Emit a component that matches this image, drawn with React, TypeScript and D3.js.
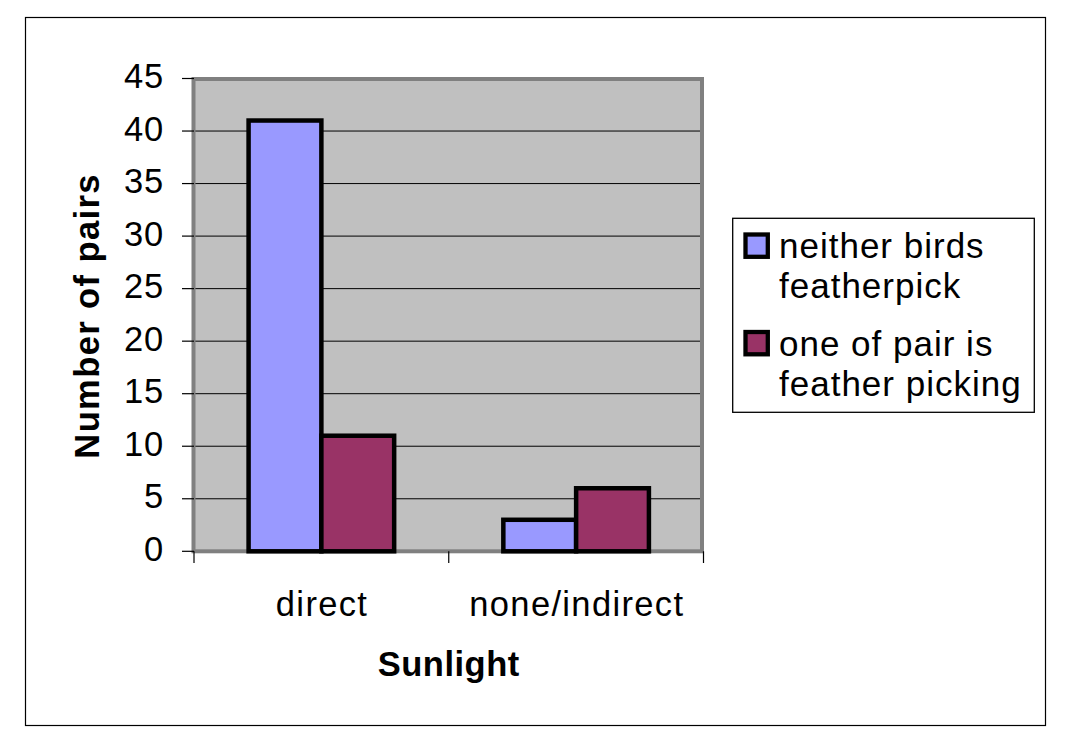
import React from "react";
import * as d3 from "d3";

const categories = ["direct", "none/indirect"];
const seriesNames = ["neither birds featherpick", "one of pair is feather picking"];
const legendLines = [
  ["neither birds", "featherpick"],
  ["one of pair is", "feather picking"],
];
const neitherPick = [41, 3];
const onePicking = [11, 6];
const seriesValues = [neitherPick, onePicking];
const yTicks = [0, 5, 10, 15, 20, 25, 30, 35, 40, 45];
const colors = ["#9999FF", "#993366"];

const W = 1069;
const H = 749;
const FONT = "'Liberation Sans', Arial, Helvetica, sans-serif";

export default function App() {
  const plotLeft = 194;
  const plotRight = 703.5;
  const plotTop = 78.5;
  const plotBottom = 551.3;

  const x = d3.scaleBand<string>().domain(categories).range([plotLeft, plotRight]).paddingInner(0).paddingOuter(0);
  const y = d3.scaleLinear().domain([0, 45]).range([plotBottom, plotTop]);
  const bw = x.bandwidth() / 3.5;
  const x1 = d3.scaleBand<number>().domain([0, 1]).range([0, 2 * bw]);
  const gapHalf = (x.bandwidth() - 2 * bw) / 2;

  const xTickPos = [plotLeft, ...categories.map((c) => (x(c) as number) + x.bandwidth())];

  return (
    <div style={{ position: "absolute", left: 0, top: 0, width: W, height: H }}>
      <svg width={W} height={H} style={{ display: "block", background: "#fff" }}>
        {/* outer chart border */}
        <rect x={25.5} y={17.5} width={1020} height={708} fill="#fff" stroke="#000" strokeWidth={1.2} />

        {/* plot area */}
        <rect x={plotLeft} y={plotTop} width={plotRight - plotLeft} height={plotBottom - plotTop} fill="#C0C0C0" />
        {yTicks.filter((t) => t > 0 && t < 45).map((t) => (
          <line key={"g" + t} x1={plotLeft} x2={plotRight} y1={y(t)} y2={y(t)} stroke="#000" strokeWidth={1} />
        ))}
        <rect
          x={plotLeft - 0.5}
          y={plotTop + 0.5}
          width={plotRight - plotLeft - 1}
          height={plotBottom - plotTop - 0.5}
          fill="none"
          stroke="#808080"
          strokeWidth={4}
        />

        {/* bars */}
        {categories.map((c, ci) =>
          seriesValues.map((vals, si) => {
            const bx = (x(c) as number) + gapHalf + (x1(si) as number);
            const v = vals[ci];
            return (
              <rect
                key={c + si}
                x={bx}
                y={y(v)}
                width={bw}
                height={y(0) - y(v)}
                fill={colors[si]}
                stroke="#000"
                strokeWidth={4.5}
              />
            );
          })
        )}

        {/* y axis ticks & labels */}
        {yTicks.map((t) => (
          <g key={"yt" + t}>
            <line x1={182} x2={plotLeft} y1={y(t)} y2={y(t)} stroke="#000" strokeWidth={1.2} />
            <text x={164} y={y(t)} dy="0.28em" textAnchor="end" fontFamily={FONT} fontSize={34.5} letterSpacing={0.8} fill="#000">
              {t}
            </text>
          </g>
        ))}

        {/* x axis ticks & labels */}
        {xTickPos.map((px, i) => (
          <line key={"xt" + i} x1={px} x2={px} y1={plotBottom} y2={563} stroke="#000" strokeWidth={1.2} />
        ))}
        {categories.map((c) => (
          <text
            key={"xl" + c}
            x={(x(c) as number) + x.bandwidth() / 2 + 0.7}
            y={616}
            textAnchor="middle"
            fontFamily={FONT}
            fontSize={34.5}
            letterSpacing={1.35}
            fill="#000"
          >
            {c}
          </text>
        ))}

        {/* axis titles */}
        <text
          x={(plotLeft + plotRight) / 2}
          y={676}
          textAnchor="middle"
          fontFamily={FONT}
          fontSize={34.5}
          fontWeight="bold"
          letterSpacing={0.5}
        >
          Sunlight
        </text>
        <text
          transform={`translate(99,${(plotTop + plotBottom) / 2 + 1}) rotate(-90)`}
          textAnchor="middle"
          fontFamily={FONT}
          fontSize={34.5}
          fontWeight="bold"
          letterSpacing={1.4}
        >
          Number of pairs
        </text>

        {/* legend */}
        <rect x={732.7} y={218.3} width={301.6} height={194} fill="#fff" stroke="#000" strokeWidth={1.3} />
        {seriesNames.map((name, i) => {
          const top = 234.5 + i * 97.5;
          return (
            <g key={name}>
              <rect x={745.5} y={top} width={22.3} height={22.3} fill={colors[i]} stroke="#000" strokeWidth={4.3} />
              {legendLines[i].map((ln, li) => (
                <text
                  key={ln}
                  x={779}
                  y={258.3 + i * 97.4 + li * 40}
                  fontFamily={FONT}
                  fontSize={35}
                  letterSpacing={1.0}
                  fill="#000"
                >
                  {ln}
                </text>
              ))}
            </g>
          );
        })}
      </svg>
    </div>
  );
}
